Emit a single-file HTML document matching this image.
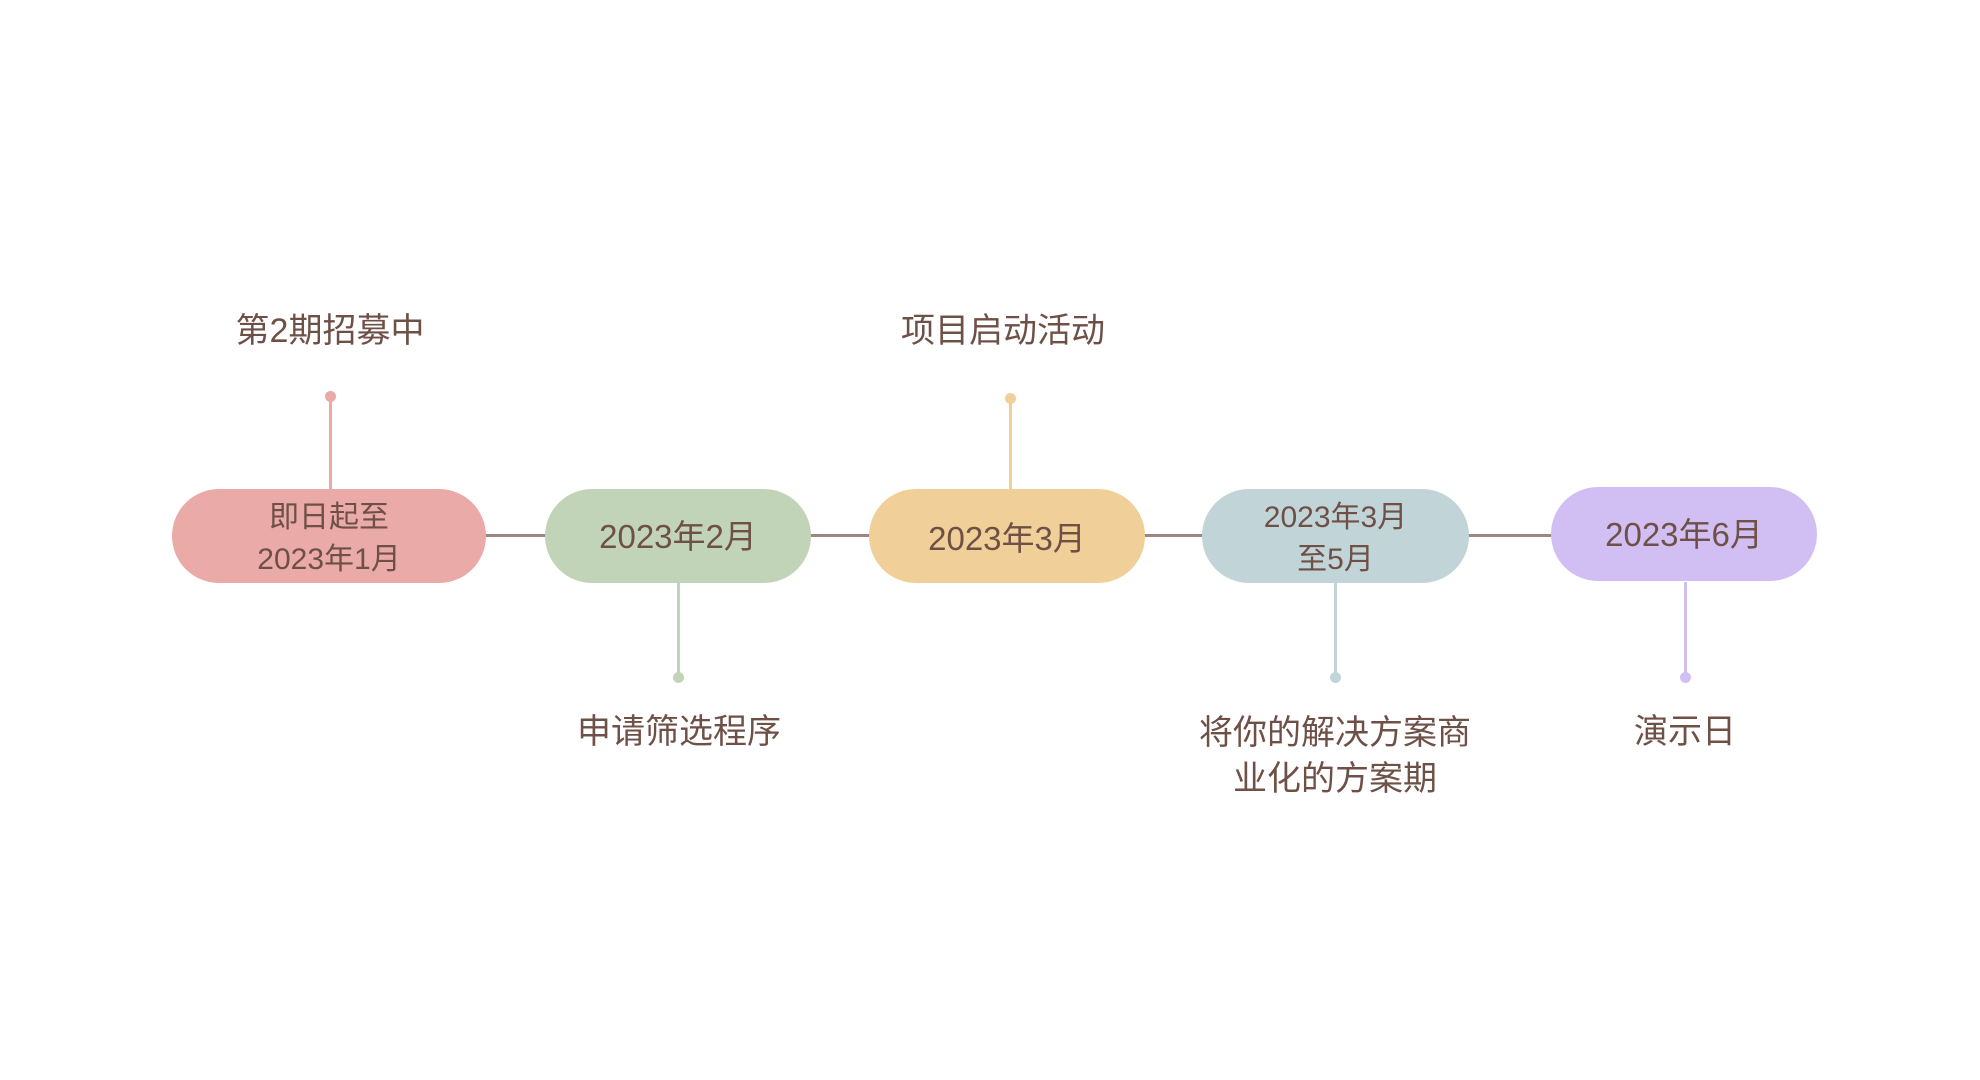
<!DOCTYPE html>
<html><head><meta charset="utf-8"><style>
html,body{margin:0;padding:0;background:#fff;}
body{width:1980px;height:1080px;position:relative;overflow:hidden;font-family:"Liberation Sans","Noto Sans CJK SC",sans-serif;color:#6e5046;}
.pill{position:absolute;border-radius:48px;display:flex;flex-direction:column;align-items:center;justify-content:center;text-align:center;font-size:33px;line-height:42px;}
.lbl{position:absolute;font-size:34px;line-height:46px;text-align:center;transform:translateX(-50%);white-space:nowrap;}
.hl{position:absolute;height:3px;background:#9b8682;top:534px;}
.st{position:absolute;width:3px;}
.dot{position:absolute;width:11px;height:11px;border-radius:50%;}
</style></head><body>
<div class="hl" style="left:480px;width:1080px"></div>

<div class="st" style="left:329px;top:396px;height:94px;background:#e9aaa8"></div>
<div class="dot" style="left:325px;top:391px;background:#e9aaa8"></div>
<div class="st" style="left:1009px;top:398px;height:92px;background:#f0d098"></div>
<div class="dot" style="left:1005px;top:393px;background:#f0d098"></div>
<div class="st" style="left:677px;top:582px;height:95px;background:#c2d4b8"></div>
<div class="dot" style="left:673px;top:672px;background:#c2d4b8"></div>
<div class="st" style="left:1334px;top:582px;height:95px;background:#c1d5d8"></div>
<div class="dot" style="left:1330px;top:672px;background:#c1d5d8"></div>
<div class="st" style="left:1684px;top:582px;height:95px;background:#d1bff3"></div>
<div class="dot" style="left:1680px;top:672px;background:#d1bff3"></div>

<div class="pill" style="left:172px;top:489px;width:314px;height:94px;background:#e9aaa8;font-size:30px"><div style="margin-top:6px">即日起至</div><div>2023年1月</div></div>
<div class="pill" style="left:545px;top:489px;width:266px;height:94px;background:#c2d4b8"><div style="margin-top:2px">2023年2月</div></div>
<div class="pill" style="left:869px;top:489px;width:276px;height:94px;background:#f0d098"><div style="margin-top:6px">2023年3月</div></div>
<div class="pill" style="left:1202px;top:489px;width:267px;height:94px;background:#c1d5d8;font-size:30px"><div style="margin-top:6px">2023年3月</div><div>至5月</div></div>
<div class="pill" style="left:1551px;top:487px;width:266px;height:94px;background:#d1bff3"><div style="margin-top:2px">2023年6月</div></div>

<div class="lbl" style="left:330px;top:308px">第2期招募中</div>
<div class="lbl" style="left:1003px;top:308px">项目启动活动</div>
<div class="lbl" style="left:679px;top:709px">申请筛选程序</div>
<div class="lbl" style="left:1335px;top:710px">将你的解决方案商<br>业化的方案期</div>
<div class="lbl" style="left:1685px;top:709px">演示日</div>
</body></html>
